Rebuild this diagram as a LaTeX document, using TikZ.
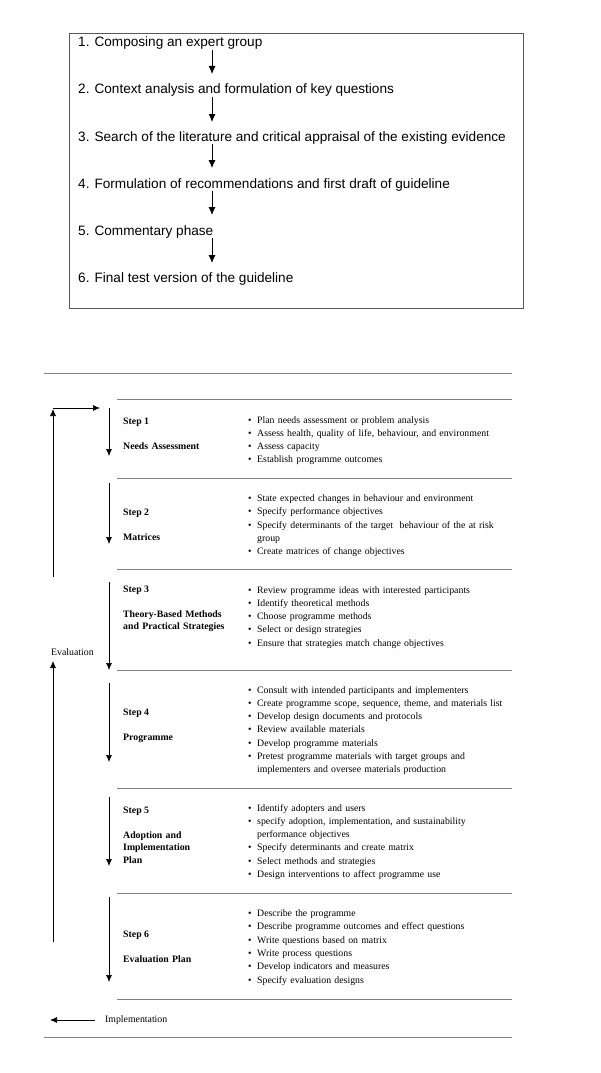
\documentclass[tikz,border=0pt]{standalone}
\usepackage{fontspec}
\setmainfont{Liberation Serif}
\newfontfamily\arialfont{Liberation Sans}
\usetikzlibrary{arrows.meta}
\begin{document}
\begin{tikzpicture}[x=1pt,y=-1pt,
  toptext/.style={anchor=base west,inner sep=0pt,font=\arialfont\fontsize{13.6}{15}\selectfont},
  toparr/.style={line width=0.9pt,-{Latex[length=8pt,width=7pt]}},
  rule/.style={line width=0.8pt,black!50},
  steparr/.style={line width=0.7pt,-{Latex[length=7pt,width=6pt]}},
  steplbl/.style={anchor=base west,inner sep=0pt,font=\bfseries\fontsize{9.8}{13}\selectfont},
  titlelbl/.style={anchor=base west,inner sep=0pt,text width=120pt,align=left,font=\bfseries\fontsize{9.8}{12.7}\selectfont},
  bullets/.style={anchor=base west,inner sep=0pt,text width=290pt,align=left,font=\fontsize{9.8}{13.3}\selectfont},
  plain/.style={anchor=base west,inner sep=0pt,font=\fontsize{9.8}{12}\selectfont}]
\newcommand{\bul}{\makebox[9pt][l]{\textbullet}}
\newcommand{\cont}{\hspace*{9pt}}
\useasboundingbox (0,0) rectangle (600,1073);
\fill[white] (0,0) rectangle (600,1073);

% ---------- top box ----------
\draw[black!65,line width=0.8pt] (69,33) rectangle (523,308);
\node[toptext] (t1) at (78,47) {1. Composing an expert group};
\node[toptext] (t2) at (78,93.3) {2. Context analysis and formulation of key questions};
\node[toptext] (t3) at (78,141) {3. Search of the literature and critical appraisal of the existing evidence};
\node[toptext] (t4) at (78,188) {4. Formulation of recommendations and first draft of guideline};
\node[toptext] (t5) at (78,235) {5. Commentary phase};
\node[toptext] (t6) at (78,282.5) {6. Final test version of the guideline};
\coordinate (a1s) at (212,50);  \coordinate (a1e) at (212,74);
\coordinate (a2s) at (212,97);  \coordinate (a2e) at (212,122);
\coordinate (a3s) at (212,144); \coordinate (a3e) at (212,168);
\coordinate (a4s) at (212,191); \coordinate (a4e) at (212,215);
\coordinate (a5s) at (212,238); \coordinate (a5e) at (212,263);
\draw[toparr] (a1s) -- (a1e);
\draw[toparr] (a2s) -- (a2e);
\draw[toparr] (a3s) -- (a3e);
\draw[toparr] (a4s) -- (a4e);
\draw[toparr] (a5s) -- (a5e);

% ---------- rules ----------
\coordinate (r0a) at (44,373);  \coordinate (r0b) at (512,373);
\coordinate (r1a) at (117,399); \coordinate (r1b) at (512,399);
\coordinate (r2a) at (117,478); \coordinate (r2b) at (512,478);
\coordinate (r3a) at (117,569); \coordinate (r3b) at (512,569);
\coordinate (r4a) at (117,670); \coordinate (r4b) at (512,670);
\coordinate (r5a) at (117,788); \coordinate (r5b) at (512,788);
\coordinate (r6a) at (117,893); \coordinate (r6b) at (512,893);
\coordinate (r7a) at (117,999); \coordinate (r7b) at (512,999);
\coordinate (r8a) at (44,1037); \coordinate (r8b) at (512,1037);
\foreach \i in {0,...,8} {\draw[rule] (r\i a) -- (r\i b);}

% ---------- step arrows ----------
\coordinate (d1s) at (109,408); \coordinate (d1e) at (109,456);
\coordinate (d2s) at (109,483); \coordinate (d2e) at (109,544);
\coordinate (d3s) at (109,582); \coordinate (d3e) at (109,670);
\coordinate (d4s) at (109,683); \coordinate (d4e) at (109,762);
\coordinate (d5s) at (109,797); \coordinate (d5e) at (109,866);
\coordinate (d6s) at (109,897); \coordinate (d6e) at (109,982);
\foreach \i in {1,...,6} {\draw[steparr] (d\i s) -- (d\i e);}

% ---------- step 1 ----------
\node[steplbl] (s1) at (123,424) {Step 1};
\node[titlelbl] (n1) at (123,449) {Needs Assessment};
\node[bullets] (b1) at (248,423) {\bul Plan needs assessment or problem analysis\\
\bul Assess health, quality of life, behaviour, and environment\\
\bul Assess capacity\\
\bul Establish programme outcomes};

% ---------- step 2 ----------
\node[steplbl] (s2) at (123,515) {Step 2};
\node[titlelbl] (n2) at (123,540) {Matrices};
\node[bullets] (b2) at (248,501.5) {\bul State expected changes in behaviour and environment\\
\bul Specify performance objectives\\
\bul Specify determinants of the target\ \ behaviour of the at risk\\
\cont group\\
\bul Create matrices of change objectives};

% ---------- step 3 ----------
\node[steplbl] (s3) at (123,592) {Step 3};
\node[titlelbl] (n3) at (123,617) {Theory-Based Methods\\and Practical Strategies};
\node[bullets] (b3) at (248,593) {\bul Review programme ideas with interested participants\\
\bul Identify theoretical methods\\
\bul Choose programme methods\\
\bul Select or design strategies\\
\bul Ensure that strategies match change objectives};

% ---------- step 4 ----------
\node[steplbl] (s4) at (123,715) {Step 4};
\node[titlelbl] (n4) at (123,740) {Programme};
\node[bullets] (b4) at (248,693) {\bul Consult with intended participants and implementers\\
\bul Create programme scope, sequence, theme, and materials list\\
\bul Develop design documents and protocols\\
\bul Review available materials\\
\bul Develop programme materials\\
\bul Pretest programme materials with target groups and\\
\cont implementers and oversee materials production};

% ---------- step 5 ----------
\node[steplbl] (s5) at (123,813) {Step 5};
\node[titlelbl] (n5) at (123,838) {Adoption and\\Implementation\\Plan};
\node[bullets] (b5) at (248,811) {\bul Identify adopters and users\\
\bul specify adoption, implementation, and sustainability\\
\cont performance objectives\\
\bul Specify determinants and create matrix\\
\bul Select methods and strategies\\
\bul Design interventions to affect programme use};

% ---------- step 6 ----------
\node[steplbl] (s6) at (123,937.5) {Step 6};
\node[titlelbl] (n6) at (123,962) {Evaluation Plan};
\node[bullets] (b6) at (248,916.5) {\bul Describe the programme\\
\bul Describe programme outcomes and effect questions\\
\bul Write questions based on matrix\\
\bul Write process questions\\
\bul Develop indicators and measures\\
\bul Specify evaluation designs};

% ---------- evaluation / implementation ----------
\node[plain] (ev) at (51,655) {Evaluation};
\coordinate (e1s) at (53,577); \coordinate (e1e) at (53,409);
\coordinate (e2s) at (53,942); \coordinate (e2e) at (53,661);
\coordinate (hs) at (53,408);  \coordinate (he) at (100,408);
\draw[steparr] (e1s) -- (e1e);
\draw[steparr] (e2s) -- (e2e);
\draw[steparr] (hs) -- (he);
\node[plain] (im) at (105,1022) {Implementation};
\coordinate (is) at (95,1020); \coordinate (ie) at (50,1020);
\draw[steparr] (is) -- (ie);
\end{tikzpicture}
\end{document}
